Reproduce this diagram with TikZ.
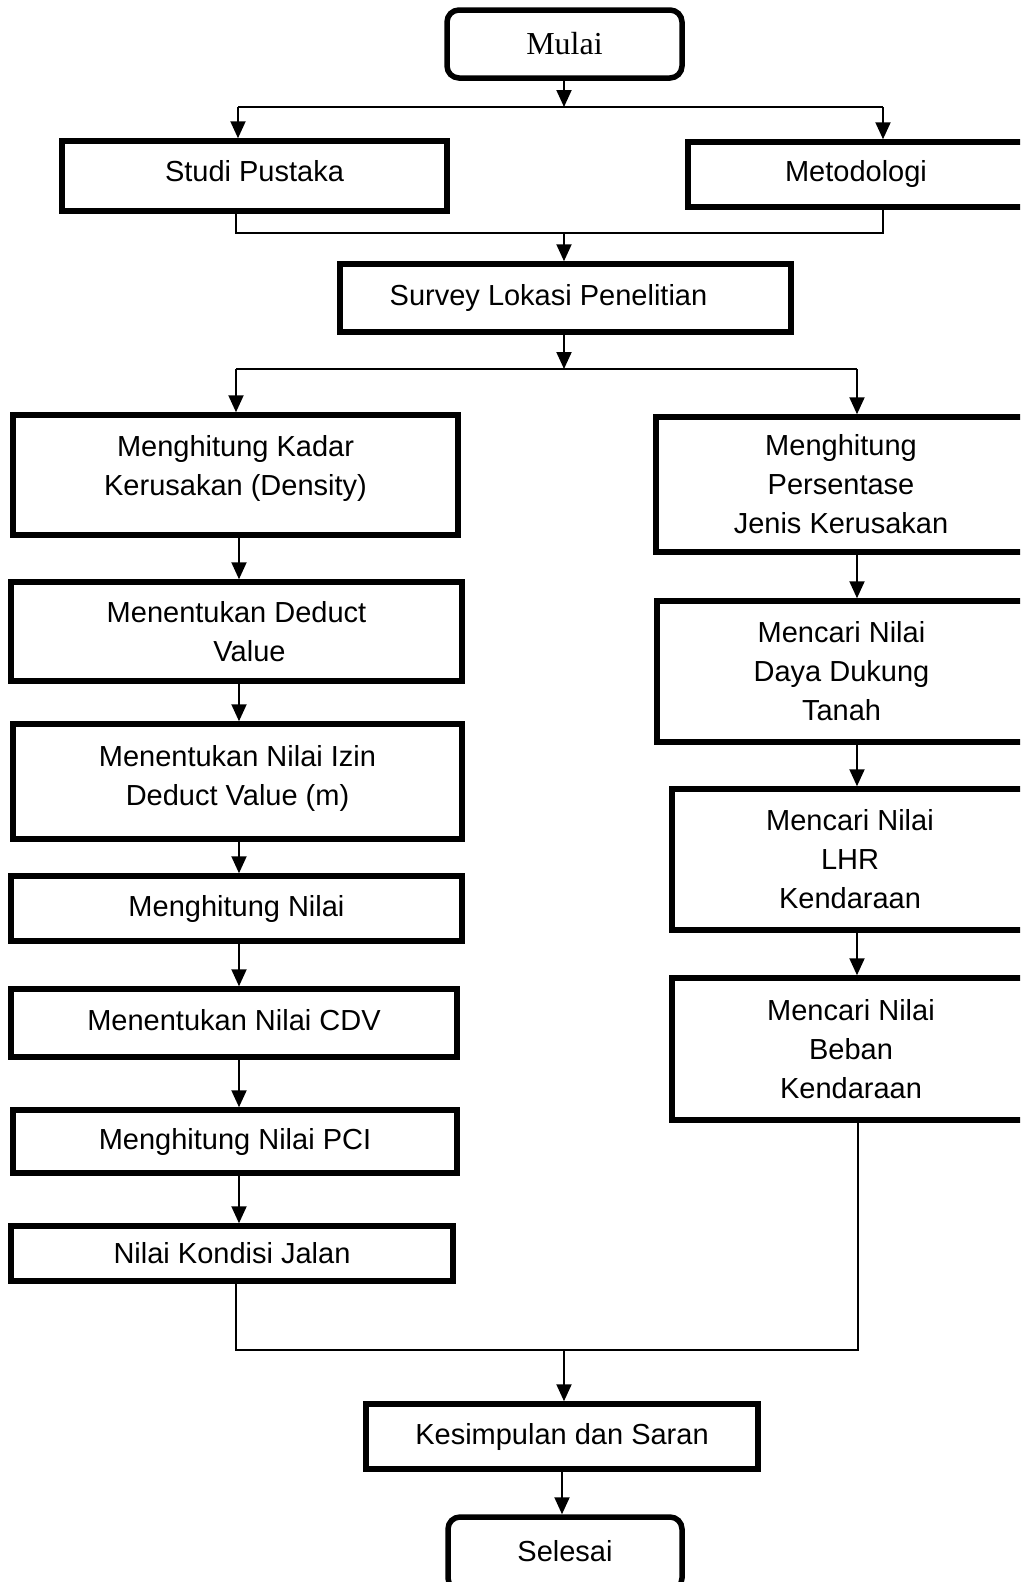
\documentclass[tikz,border=0pt]{standalone}
\usepackage{fontspec}
\setmainfont{Liberation Sans}
\newfontfamily\timesfont{Liberation Serif}
\usetikzlibrary{arrows.meta}

\begin{document}
\begin{tikzpicture}[x=1pt,y=-1pt,
  box/.style={draw,line width=5.5pt,inner sep=0pt,align=center,font=\fontsize{29}{39}\selectfont},
  rbox/.style={box,rounded corners=12pt},
  line/.style={line width=2pt},
  arr/.style={line width=2pt,-{Triangle[length=17pt,width=15pt]}}]
% page size of the reference
\useasboundingbox (0,0) rectangle (1020,1582);
\clip (0,0) rectangle (1020,1582);
% start and first row
\node[rbox,minimum width=235pt,minimum height=68pt,font=\timesfont\fontsize{32}{39}\selectfont] (mulai) at (564.5,44) {Mulai};
\node[box,minimum width=385pt,minimum height=70pt,text depth=10pt] (studi) at (254.5,176) {Studi Pustaka};
\node[box,minimum width=336pt,minimum height=65pt] (metod) at (856,174.5) {Metodologi};
\node[box,minimum width=451pt,minimum height=68pt] (survey) at (565.5,298) {\mbox{Survey Lokasi Penelitian\hspace{34pt}}};
% left column
\node[box,minimum width=445pt,minimum height=120pt,text depth=20pt] (kadar) at (235.5,475) {Menghitung Kadar\\Kerusakan (Density)};
\node[box,minimum width=451pt,minimum height=99pt] (deduct) at (236.5,631.5) {Menentukan Deduct\\\mbox{\hspace{26pt}Value}};
\node[box,minimum width=449pt,minimum height=115pt,text depth=13pt] (izin) at (237.5,781.5) {Menentukan Nilai Izin\\Deduct Value (m)};
\node[box,minimum width=451pt,minimum height=65pt] (nilai) at (236.5,908.5) {Menghitung Nilai};
\node[box,minimum width=446pt,minimum height=68pt,text depth=6pt] (cdv) at (234,1023) {Menentukan Nilai CDV};
\node[box,minimum width=444pt,minimum height=63pt] (pci) at (235,1141.5) {Menghitung Nilai PCI};
\node[box,minimum width=442pt,minimum height=55pt] (kondisi) at (232,1253.5) {Nilai Kondisi Jalan};
% right column
\node[box,minimum width=370pt,minimum height=135pt] (persen) at (841,484.5) {Menghitung\\Persentase\\Jenis Kerusakan};
\node[box,minimum width=369pt,minimum height=141pt] (tanah) at (841.5,671.5) {Mencari Nilai\\Daya Dukung\\Tanah};
\node[box,minimum width=356pt,minimum height=141pt] (lhr) at (850,859.5) {Mencari Nilai\\LHR\\Kendaraan};
\node[box,minimum width=358pt,minimum height=142pt] (beban) at (851,1049) {Mencari Nilai\\Beban\\Kendaraan};
% end
\node[box,minimum width=392pt,minimum height=65pt] (kes) at (562,1436.5) {Kesimpulan dan Saran};
\node[rbox,minimum width=234pt,minimum height=73pt,text depth=6pt] (selesai) at (565,1553.5) {Selesai};
% branch points
\coordinate (cab1) at (564,107);
\coordinate (cab1l) at (238,107);
\coordinate (cab1r) at (883,107);
\coordinate (gab1) at (564,233);
\coordinate (gab1l) at (236,233);
\coordinate (gab1r) at (883,233);
\coordinate (cab2) at (564,369);
\coordinate (cab2l) at (236,369);
\coordinate (cab2r) at (857,369);
\coordinate (kiri) at (239,0);
\coordinate (kanan) at (857,0);
\coordinate (gab2) at (564,1350);
\coordinate (gab2l) at (236,1350);
\coordinate (gab2r) at (858,1350);
% arrows top part
\draw[arr] (mulai.south -| cab1) -- (cab1);
\draw[line] (cab1l) -- (cab1r);
\draw[arr] (cab1l) -- (cab1l |- studi.north);
\draw[arr] (cab1r) -- (cab1r |- metod.north);
\draw[line] (gab1l |- studi.south) -- (gab1l) -- (gab1r) -- (gab1r |- metod.south);
\draw[arr] (gab1) -- (gab1 |- survey.north);
\draw[arr] (survey.south -| cab2) -- (cab2);
\draw[line] (cab2l) -- (cab2r);
\draw[arr] (cab2l) -- (cab2l |- kadar.north);
\draw[arr] (cab2r) -- (cab2r |- persen.north);
% arrows in the columns
\foreach \a/\b in {kadar/deduct,deduct/izin,izin/nilai,nilai/cdv,cdv/pci,pci/kondisi}
  \draw[arr] (\a.south -| kiri) -- (\b.north -| kiri);
\foreach \a/\b in {persen/tanah,tanah/lhr,lhr/beban}
  \draw[arr] (\a.south -| kanan) -- (\b.north -| kanan);
% joining to the end
\draw[line] (gab2l |- kondisi.south) -- (gab2l) -- (gab2r) -- (gab2r |- beban.south);
\draw[arr] (gab2) -- (gab2 |- kes.north);
\draw[arr] (kes.south) -- (kes.south |- selesai.north);
\end{tikzpicture}
\end{document}
